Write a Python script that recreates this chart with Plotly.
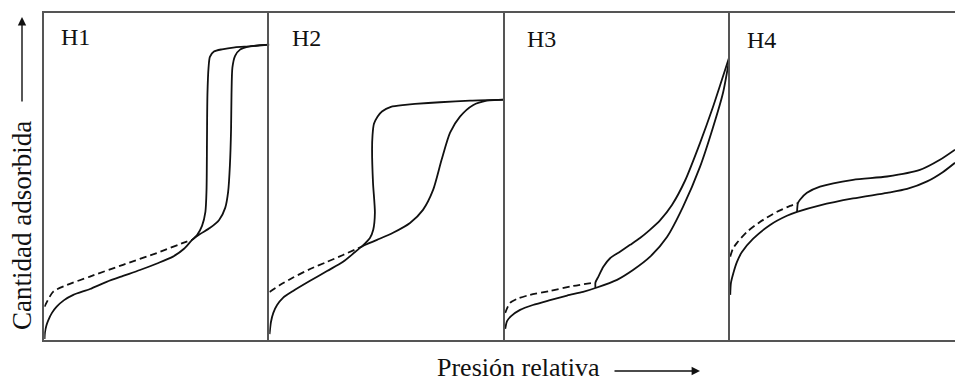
import plotly.graph_objects as go

# Hysteresis loop types (IUPAC H1-H4): relative pressure vs. amount adsorbed
panels = ["H1", "H2", "H3", "H4"]

# --- H1 ---
h1_ads_p = [0.001, 0.003, 0.010, 0.018, 0.034, 0.055, 0.088, 0.129, 0.203, 0.277, 0.350, 0.425,
            0.501, 0.572, 0.621, 0.657, 0.692, 0.737, 0.777, 0.804, 0.817, 0.825, 0.830, 0.832,
            0.836, 0.848, 0.870, 0.905, 0.950, 1.000]
h1_ads_q = [0.003, 0.024, 0.046, 0.061, 0.083, 0.102, 0.122, 0.138, 0.156, 0.178, 0.196, 0.214,
            0.234, 0.255, 0.279, 0.306, 0.324, 0.343, 0.367, 0.404, 0.453, 0.536, 0.643, 0.750,
            0.833, 0.869, 0.888, 0.897, 0.901, 0.903]
h1_des_p = [1.000, 0.914, 0.847, 0.790, 0.754, 0.736, 0.730, 0.725, 0.723, 0.721, 0.716, 0.701,
            0.679, 0.657]
h1_des_q = [0.903, 0.898, 0.895, 0.889, 0.882, 0.866, 0.833, 0.750, 0.612, 0.459, 0.392, 0.349,
            0.321, 0.306]
h1_low_p = [0.001, 0.040, 0.100, 0.203, 0.350, 0.500, 0.633, 0.657]
h1_low_q = [0.102, 0.148, 0.168, 0.194, 0.230, 0.266, 0.301, 0.306]

# --- H2 ---
h2_ads_p = [0.001, 0.007, 0.017, 0.033, 0.058, 0.101, 0.173, 0.245, 0.313, 0.364, 0.393, 0.457,
            0.525, 0.597, 0.652, 0.695, 0.731, 0.767, 0.809, 0.864, 0.923, 1.000]
h2_ads_q = [0.018, 0.055, 0.083, 0.107, 0.129, 0.150, 0.181, 0.211, 0.239, 0.269, 0.286, 0.306,
            0.328, 0.358, 0.398, 0.459, 0.551, 0.634, 0.683, 0.718, 0.732, 0.735]
h2_des_p = [1.000, 0.852, 0.724, 0.618, 0.576, 0.516, 0.478, 0.459, 0.444, 0.438, 0.436, 0.440,
            0.448, 0.441, 0.427, 0.393]
h2_des_q = [0.735, 0.732, 0.727, 0.722, 0.719, 0.713, 0.699, 0.683, 0.661, 0.627, 0.582, 0.481,
            0.389, 0.337, 0.312, 0.286]
h2_low_p = [0.001, 0.045, 0.101, 0.173, 0.245, 0.313, 0.393]
h2_low_q = [0.147, 0.168, 0.191, 0.217, 0.239, 0.260, 0.286]

# --- H3 ---
h3_ads_p = [0.001, 0.009, 0.027, 0.067, 0.124, 0.200, 0.276, 0.347, 0.402, 0.498, 0.569, 0.644,
            0.720, 0.791, 0.867, 0.924, 0.969, 1.000]
h3_ads_q = [0.034, 0.058, 0.073, 0.092, 0.107, 0.122, 0.136, 0.147, 0.159, 0.184, 0.214, 0.254,
            0.315, 0.407, 0.530, 0.649, 0.756, 0.872]
h3_des_p = [1.000, 0.964, 0.920, 0.867, 0.800, 0.742, 0.689, 0.644, 0.600, 0.556, 0.511, 0.467,
            0.437, 0.415, 0.402, 0.402]
h3_des_q = [0.872, 0.796, 0.704, 0.603, 0.487, 0.413, 0.366, 0.337, 0.312, 0.291, 0.270, 0.250,
            0.224, 0.194, 0.176, 0.159]
h3_low_p = [0.001, 0.022, 0.058, 0.111, 0.200, 0.302, 0.402]
h3_low_q = [0.083, 0.113, 0.127, 0.138, 0.150, 0.165, 0.176]

# --- H4 ---
h4_ads_p = [0.001, 0.004, 0.015, 0.031, 0.053, 0.102, 0.178, 0.253, 0.298, 0.400, 0.547, 0.698,
            0.787, 0.876, 0.947, 1.000]
h4_ads_q = [0.138, 0.174, 0.205, 0.239, 0.269, 0.309, 0.352, 0.380, 0.392, 0.412, 0.433, 0.450,
            0.462, 0.485, 0.514, 0.542]
h4_des_p = [1.000, 0.933, 0.844, 0.698, 0.547, 0.400, 0.342, 0.311, 0.302, 0.298]
h4_des_q = [0.582, 0.551, 0.520, 0.500, 0.490, 0.469, 0.450, 0.429, 0.419, 0.392]
h4_low_p = [0.001, 0.013, 0.031, 0.076, 0.133, 0.209, 0.267, 0.302]
h4_low_q = [0.255, 0.279, 0.297, 0.331, 0.361, 0.392, 0.410, 0.419]

curves = [
    (h1_ads_p, h1_ads_q, h1_des_p, h1_des_q, h1_low_p, h1_low_q),
    (h2_ads_p, h2_ads_q, h2_des_p, h2_des_q, h2_low_p, h2_low_q),
    (h3_ads_p, h3_ads_q, h3_des_p, h3_des_q, h3_low_p, h3_low_q),
    (h4_ads_p, h4_ads_q, h4_des_p, h4_des_q, h4_low_p, h4_low_q),
]

W, H = 955, 383
ML, MR, MT, MB = 44, 0, 13, 43
PW, PH = W - ML - MR, H - MT - MB

# panel edges in pixels along the shared frame
edges = [44.3, 269.3, 505.0, 730.0, 955.0]
domains = [((edges[i] - ML) / PW, min(1.0, (edges[i + 1] - ML) / PW)) for i in range(4)]

INK = "#111111"
FRAME = "#555555"
SERIF = "Liberation Serif, Times New Roman, serif"


def px(x):
    return (x - ML) / PW


def py(y):
    return (H - MB - y) / PH


fig = go.Figure()
for i, (ap, aq, dp, dq, lp, lq) in enumerate(curves):
    xa, ya = f"x{i + 1}", f"y{i + 1}"
    solid = dict(color=INK, width=1.8, shape="spline", smoothing=0.7)
    fig.add_trace(go.Scatter(x=ap, y=aq, mode="lines", line=solid, xaxis=xa, yaxis=ya,
                             hoverinfo="skip", showlegend=False))
    fig.add_trace(go.Scatter(x=dp, y=dq, mode="lines", line=solid, xaxis=xa, yaxis=ya,
                             hoverinfo="skip", showlegend=False))
    fig.add_trace(go.Scatter(x=lp, y=lq, mode="lines",
                             line=dict(color=INK, width=1.8, dash="7px,4px", shape="spline",
                                       smoothing=0.7),
                             xaxis=xa, yaxis=ya, hoverinfo="skip", showlegend=False))

axis_common = dict(range=[0, 1], showgrid=False, zeroline=False, showticklabels=False,
                   ticks="", showline=True, linecolor=FRAME, linewidth=2, fixedrange=True)
layout_axes = {}
for i in range(4):
    k = "" if i == 0 else str(i + 1)
    layout_axes[f"xaxis{k}"] = dict(axis_common, domain=list(domains[i]), anchor=f"y{i + 1}",
                                    mirror=True)
    layout_axes[f"yaxis{k}"] = dict(axis_common, domain=[0, 1], anchor=f"x{i + 1}",
                                    mirror=False)

label_pos = [(59, 36.5), (289.7, 38.5), (524.7, 38.8), (744.7, 39.5)]
annotations = []
for name, (lx, ly) in zip(panels, label_pos):
    annotations.append(dict(text=name, x=px(lx), y=py(ly), xref="paper", yref="paper",
                            xanchor="left", yanchor="middle", showarrow=False,
                            font=dict(family=SERIF, size=24, color=INK)))

annotations += [
    dict(text="Cantidad adsorbida", x=px(22), y=py(226), xref="paper", yref="paper",
         textangle=-90, showarrow=False, xanchor="center", yanchor="middle",
         font=dict(family=SERIF, size=27, color=INK)),
    dict(text="Presión relativa", x=px(518), y=py(383), xref="paper", yref="paper",
         showarrow=False, xanchor="center", yanchor="bottom", borderpad=0,
         font=dict(family=SERIF, size=26, color=INK)),
    dict(text="", x=px(22), y=py(17), xref="paper", yref="paper", showarrow=True,
         ax=0, ay=86, arrowhead=2, arrowsize=1.2, arrowwidth=1.4, arrowcolor=INK, standoff=0),
    dict(text="", x=px(700), y=py(371), xref="paper", yref="paper", showarrow=True,
         ax=-87, ay=0, arrowhead=2, arrowsize=1.2, arrowwidth=1.4, arrowcolor=INK, standoff=0),
]

fig.update_layout(
    width=W, height=H,
    margin=dict(l=ML, r=MR, t=MT, b=MB, pad=0),
    paper_bgcolor="white", plot_bgcolor="white",
    annotations=annotations,
    **layout_axes,
)

fig.write_html("out.html", config={"displayModeBar": False})
